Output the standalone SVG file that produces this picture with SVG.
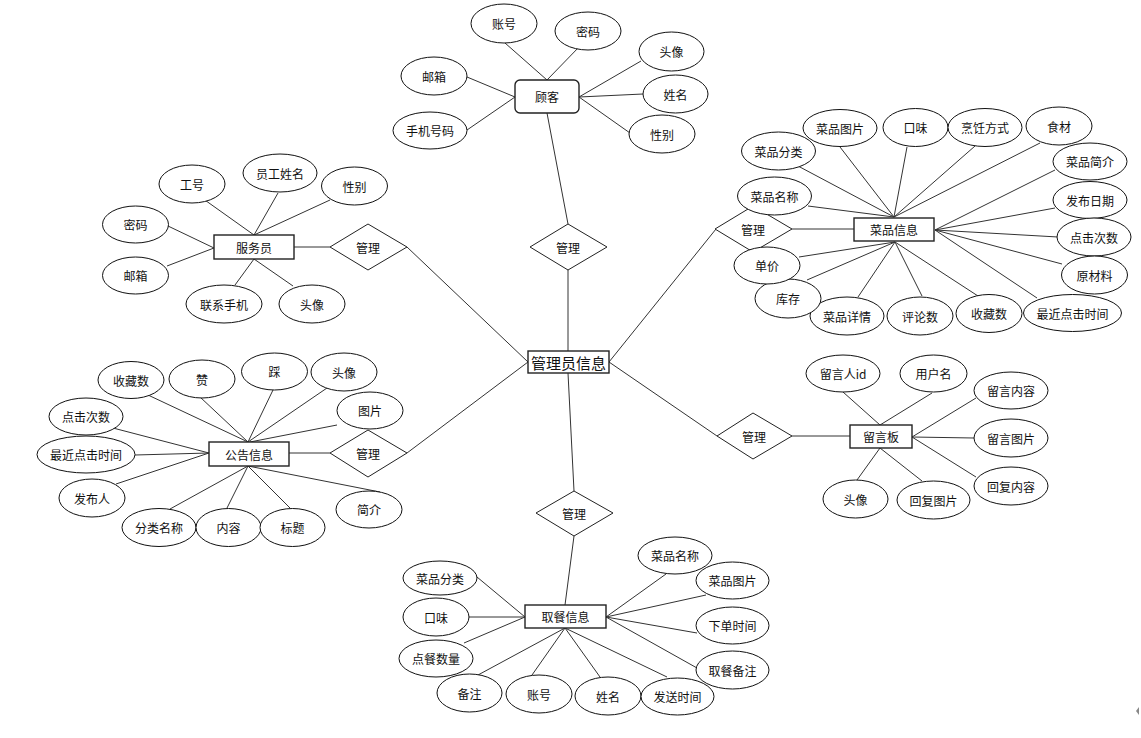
<svg xmlns="http://www.w3.org/2000/svg" width="1141" height="738" viewBox="0 0 1141 738">
<style>
.l{stroke:#333;stroke-width:1;fill:none}
.e{fill:#fff;stroke:#111;stroke-width:1}
.r{fill:#fff;stroke:#222;stroke-width:1.4}
.d{fill:#fff;stroke:#222;stroke-width:1}
text{font-family:"Noto Sans CJK SC","Liberation Sans",sans-serif;font-size:12px;fill:#111;text-anchor:middle;dominant-baseline:central}
.big{font-size:15px}
</style>
<rect width="1141" height="738" fill="#fff"/>
<g id="connectors">
<!-- customer -->
<line class="l" x1="505" y1="43" x2="547" y2="80"/>
<line class="l" x1="580" y1="46" x2="547" y2="80"/>
<line class="l" x1="641" y1="61" x2="579" y2="97"/>
<line class="l" x1="643" y1="94" x2="579" y2="97"/>
<line class="l" x1="630" y1="133" x2="579" y2="97"/>
<line class="l" x1="467" y1="77" x2="515" y2="97"/>
<line class="l" x1="467" y1="130" x2="515" y2="97"/>
<line class="l" x1="547" y1="113" x2="568" y2="224"/>
<line class="l" x1="568" y1="270" x2="568" y2="351"/>
<!-- admin spokes -->
<line class="l" x1="407" y1="247" x2="528" y2="362"/>
<line class="l" x1="407" y1="453" x2="528" y2="362"/>
<line class="l" x1="609" y1="362" x2="716" y2="229"/>
<line class="l" x1="609" y1="362" x2="717" y2="436"/>
<line class="l" x1="568" y1="373" x2="574" y2="491"/>
<line class="l" x1="574" y1="536" x2="565" y2="605"/>
<!-- waiter -->
<line class="l" x1="202" y1="198" x2="254" y2="235"/>
<line class="l" x1="278" y1="193" x2="254" y2="235"/>
<line class="l" x1="330" y1="200" x2="254" y2="235"/>
<line class="l" x1="168" y1="226" x2="214" y2="248"/>
<line class="l" x1="167" y1="266" x2="214" y2="248"/>
<line class="l" x1="235" y1="285" x2="254" y2="259"/>
<line class="l" x1="293" y1="286" x2="254" y2="259"/>
<line class="l" x1="294" y1="247" x2="330" y2="247"/>
<!-- notice -->
<line class="l" x1="148" y1="395" x2="248" y2="442"/>
<line class="l" x1="200" y1="397" x2="248" y2="442"/>
<line class="l" x1="273" y1="390" x2="248" y2="442"/>
<line class="l" x1="327" y1="388" x2="248" y2="442"/>
<line class="l" x1="337" y1="425" x2="250" y2="442"/>
<line class="l" x1="113" y1="428" x2="209" y2="453"/>
<line class="l" x1="135" y1="455" x2="209" y2="453"/>
<line class="l" x1="116" y1="484" x2="209" y2="453"/>
<line class="l" x1="170" y1="509" x2="248" y2="466"/>
<line class="l" x1="227" y1="508" x2="248" y2="466"/>
<line class="l" x1="290" y1="508" x2="248" y2="466"/>
<line class="l" x1="380" y1="492" x2="248" y2="466"/>
<line class="l" x1="289" y1="453" x2="330" y2="453"/>
<!-- dish -->
<line class="l" x1="798" y1="166" x2="894" y2="217"/>
<line class="l" x1="840" y1="147" x2="894" y2="217"/>
<line class="l" x1="907" y1="147" x2="894" y2="217"/>
<line class="l" x1="975" y1="146" x2="894" y2="217"/>
<line class="l" x1="1040" y1="143" x2="894" y2="217"/>
<line class="l" x1="808" y1="206" x2="894" y2="217"/>
<line class="l" x1="1055" y1="170" x2="935" y2="230"/>
<line class="l" x1="1055" y1="208" x2="935" y2="230"/>
<line class="l" x1="1058" y1="237" x2="935" y2="230"/>
<line class="l" x1="1062" y1="264" x2="935" y2="230"/>
<line class="l" x1="1037" y1="298" x2="935" y2="230"/>
<line class="l" x1="799" y1="257" x2="895" y2="242"/>
<line class="l" x1="807" y1="280" x2="895" y2="242"/>
<line class="l" x1="858" y1="297" x2="895" y2="242"/>
<line class="l" x1="922" y1="296" x2="895" y2="242"/>
<line class="l" x1="978" y1="296" x2="895" y2="242"/>
<line class="l" x1="792" y1="229" x2="854" y2="229"/>
<!-- message board -->
<line class="l" x1="843" y1="392" x2="880" y2="425"/>
<line class="l" x1="932" y1="393" x2="880" y2="425"/>
<line class="l" x1="976" y1="398" x2="912" y2="437"/>
<line class="l" x1="974" y1="438" x2="912" y2="437"/>
<line class="l" x1="976" y1="477" x2="912" y2="437"/>
<line class="l" x1="857" y1="480" x2="880" y2="448"/>
<line class="l" x1="922" y1="481" x2="880" y2="448"/>
<line class="l" x1="792" y1="436" x2="850" y2="436"/>
<!-- pickup -->
<line class="l" x1="477" y1="577" x2="525" y2="617"/>
<line class="l" x1="469" y1="617" x2="525" y2="617"/>
<line class="l" x1="464" y1="643" x2="525" y2="617"/>
<line class="l" x1="478" y1="675" x2="565" y2="628"/>
<line class="l" x1="532" y1="675" x2="565" y2="628"/>
<line class="l" x1="600" y1="677" x2="565" y2="628"/>
<line class="l" x1="667" y1="677" x2="565" y2="628"/>
<line class="l" x1="666" y1="574" x2="606" y2="617"/>
<line class="l" x1="706" y1="595" x2="606" y2="617"/>
<line class="l" x1="697" y1="633" x2="606" y2="617"/>
<line class="l" x1="697" y1="668" x2="606" y2="617"/>
</g>

<g id="admin">
<rect class="r" x="528" y="351" width="81" height="22"/>
<text class="big" x="568.5" y="362">管理员信息</text>
</g>
<g id="rel-customer"><polygon class="d" points="568,224 607,247 568,270 530,247"/><text x="568" y="247">管理</text></g>
<g id="rel-waiter"><polygon class="d" points="368,224 407,247 368,270 330,247"/><text x="368" y="247">管理</text></g>
<g id="rel-notice"><polygon class="d" points="368,430 407,453 368,477 330,453"/><text x="368" y="453">管理</text></g>
<g id="rel-dish"><polygon class="d" points="753,206 792,229 753,252 715,229"/><text x="753" y="229">管理</text></g>
<g id="rel-board"><polygon class="d" points="753,413 792,436 753,459 717,436"/><text x="754" y="436">管理</text></g>
<g id="rel-pickup"><polygon class="d" points="574,491 613,513 574,536 536,513"/><text x="574" y="513">管理</text></g>

<g id="customer">
<rect class="r" x="515" y="80" width="64" height="33" rx="5"/>
<text x="547" y="96.5">顾客</text>
<ellipse class="e" cx="504" cy="23.5" rx="33" ry="19.5"/><text x="504" y="23.5">账号</text>
<ellipse class="e" cx="588" cy="31" rx="33" ry="19"/><text x="588" y="31">密码</text>
<ellipse class="e" cx="671.5" cy="51.5" rx="32.5" ry="19.5"/><text x="671.5" y="51.5">头像</text>
<ellipse class="e" cx="675.5" cy="94" rx="32.5" ry="19"/><text x="675.5" y="94">姓名</text>
<ellipse class="e" cx="662" cy="134" rx="33" ry="19"/><text x="662" y="134">性别</text>
<ellipse class="e" cx="434" cy="76" rx="33" ry="19"/><text x="434" y="76">邮箱</text>
<ellipse class="e" cx="430" cy="130.5" rx="37" ry="18.5"/><text x="430" y="130.5">手机号码</text>
</g>

<g id="waiter">
<rect class="r" x="214" y="235" width="80" height="24"/>
<text x="254" y="247">服务员</text>
<ellipse class="e" cx="192" cy="184" rx="33" ry="19"/><text x="192" y="184">工号</text>
<ellipse class="e" cx="280" cy="173" rx="37" ry="19"/><text x="280" y="173">员工姓名</text>
<ellipse class="e" cx="354.5" cy="186" rx="33" ry="19"/><text x="354.5" y="186">性别</text>
<ellipse class="e" cx="135.5" cy="224.5" rx="33" ry="18.5"/><text x="135.5" y="224.5">密码</text>
<ellipse class="e" cx="135.5" cy="275.5" rx="33" ry="18.5"/><text x="135.5" y="275.5">邮箱</text>
<ellipse class="e" cx="224" cy="304" rx="38" ry="19"/><text x="224" y="304">联系手机</text>
<ellipse class="e" cx="312" cy="304" rx="33" ry="19"/><text x="312" y="304">头像</text>
</g>

<g id="notice">
<rect class="r" x="209" y="442" width="80" height="24"/>
<text x="249" y="454">公告信息</text>
<ellipse class="e" cx="131" cy="380" rx="33" ry="18.5"/><text x="131" y="380">收藏数</text>
<ellipse class="e" cx="202" cy="379" rx="33" ry="19"/><text x="202" y="379">赞</text>
<ellipse class="e" cx="274.5" cy="371.5" rx="33" ry="18.5"/><text x="274.5" y="371.5">踩</text>
<ellipse class="e" cx="344" cy="372" rx="33" ry="19"/><text x="344" y="372">头像</text>
<ellipse class="e" cx="370" cy="410.5" rx="33" ry="18.5"/><text x="370" y="410.5">图片</text>
<ellipse class="e" cx="86" cy="416.5" rx="37" ry="18.5"/><text x="86" y="416.5">点击次数</text>
<ellipse class="e" cx="86" cy="454.5" rx="49" ry="18.5"/><text x="86" y="454.5">最近点击时间</text>
<ellipse class="e" cx="92" cy="498" rx="33" ry="19"/><text x="92" y="498">发布人</text>
<ellipse class="e" cx="159" cy="527.5" rx="37" ry="19"/><text x="159" y="527.5">分类名称</text>
<ellipse class="e" cx="228.5" cy="527.5" rx="32.5" ry="19"/><text x="228.5" y="527.5">内容</text>
<ellipse class="e" cx="292.5" cy="527.5" rx="32.5" ry="19"/><text x="292.5" y="527.5">标题</text>
<ellipse class="e" cx="369" cy="509.5" rx="33" ry="18.5"/><text x="369" y="509.5">简介</text>
</g>

<g id="dish">
<rect class="r" x="854" y="218" width="80" height="23"/>
<text x="894" y="229.5">菜品信息</text>
<ellipse class="e" cx="840" cy="128" rx="37" ry="18.5"/><text x="840" y="128">菜品图片</text>
<ellipse class="e" cx="915.5" cy="127.5" rx="32.5" ry="19"/><text x="915.5" y="127.5">口味</text>
<ellipse class="e" cx="985" cy="127.5" rx="37" ry="19"/><text x="985" y="127.5">烹饪方式</text>
<ellipse class="e" cx="1059" cy="126" rx="33" ry="19"/><text x="1059" y="126">食材</text>
<ellipse class="e" cx="778.5" cy="151" rx="37" ry="19"/><text x="778.5" y="151">菜品分类</text>
<ellipse class="e" cx="1090" cy="161.5" rx="37" ry="18.5"/><text x="1090" y="161.5">菜品简介</text>
<ellipse class="e" cx="1090" cy="200" rx="37" ry="18.5"/><text x="1090" y="200">发布日期</text>
<ellipse class="e" cx="1094" cy="237" rx="37" ry="19"/><text x="1094" y="237">点击次数</text>
<ellipse class="e" cx="1094.5" cy="275" rx="33" ry="19"/><text x="1094.5" y="275">原材料</text>
<ellipse class="e" cx="1072.5" cy="313" rx="49" ry="18.5"/><text x="1072.5" y="313">最近点击时间</text>
<ellipse class="e" cx="989" cy="313.5" rx="33" ry="19"/><text x="989" y="313.5">收藏数</text>
<ellipse class="e" cx="920" cy="316" rx="33" ry="19"/><text x="920" y="316">评论数</text>
<ellipse class="e" cx="847" cy="316" rx="37" ry="19"/><text x="847" y="316">菜品详情</text>
<ellipse class="e" cx="788" cy="298.5" rx="33" ry="19.5"/><text x="788" y="298.5">库存</text>
<ellipse class="e" cx="767" cy="265.5" rx="33" ry="18.5"/><text x="767" y="265.5">单价</text>
<ellipse class="e" cx="774.5" cy="196" rx="37" ry="19"/><text x="774.5" y="196">菜品名称</text>
</g>

<g id="board">
<rect class="r" x="850" y="425" width="62" height="23"/>
<text x="881" y="436.5">留言板</text>
<ellipse class="e" cx="843" cy="373.5" rx="37" ry="18.5"/><text x="843" y="373.5">留言人id</text>
<ellipse class="e" cx="933.5" cy="373.5" rx="33.5" ry="18.5"/><text x="933.5" y="373.5">用户名</text>
<ellipse class="e" cx="1011" cy="390.5" rx="37" ry="18.5"/><text x="1011" y="390.5">留言内容</text>
<ellipse class="e" cx="1011" cy="438" rx="37" ry="19"/><text x="1011" y="438">留言图片</text>
<ellipse class="e" cx="1011" cy="486" rx="37" ry="19"/><text x="1011" y="486">回复内容</text>
<ellipse class="e" cx="855.5" cy="499" rx="32.5" ry="19"/><text x="855.5" y="499">头像</text>
<ellipse class="e" cx="933.5" cy="500" rx="36.5" ry="19"/><text x="933.5" y="500">回复图片</text>
</g>

<g id="pickup">
<rect class="r" x="525" y="605" width="81" height="23"/>
<text x="565.5" y="616.5">取餐信息</text>
<ellipse class="e" cx="440" cy="578" rx="37" ry="17"/><text x="440" y="578">菜品分类</text>
<ellipse class="e" cx="436" cy="617" rx="33" ry="19"/><text x="436" y="617">口味</text>
<ellipse class="e" cx="436" cy="658.5" rx="37" ry="18.5"/><text x="436" y="658.5">点餐数量</text>
<ellipse class="e" cx="469.5" cy="693" rx="32.5" ry="19"/><text x="469.5" y="693">备注</text>
<ellipse class="e" cx="539" cy="694" rx="33" ry="19"/><text x="539" y="694">账号</text>
<ellipse class="e" cx="608" cy="696" rx="33" ry="19"/><text x="608" y="696">姓名</text>
<ellipse class="e" cx="677.5" cy="696.5" rx="36.5" ry="18.5"/><text x="677.5" y="696.5">发送时间</text>
<ellipse class="e" cx="675" cy="555.5" rx="37" ry="18.5"/><text x="675" y="555.5">菜品名称</text>
<ellipse class="e" cx="732.5" cy="580.5" rx="36.5" ry="18.5"/><text x="732.5" y="580.5">菜品图片</text>
<ellipse class="e" cx="732.5" cy="625.5" rx="36.5" ry="18.5"/><text x="732.5" y="625.5">下单时间</text>
<ellipse class="e" cx="732.5" cy="670" rx="36.5" ry="19"/><text x="732.5" y="670">取餐备注</text>
</g>

<path d="M1139,707 L1136,711 L1139,715 Z" fill="#888"/>
</svg>
